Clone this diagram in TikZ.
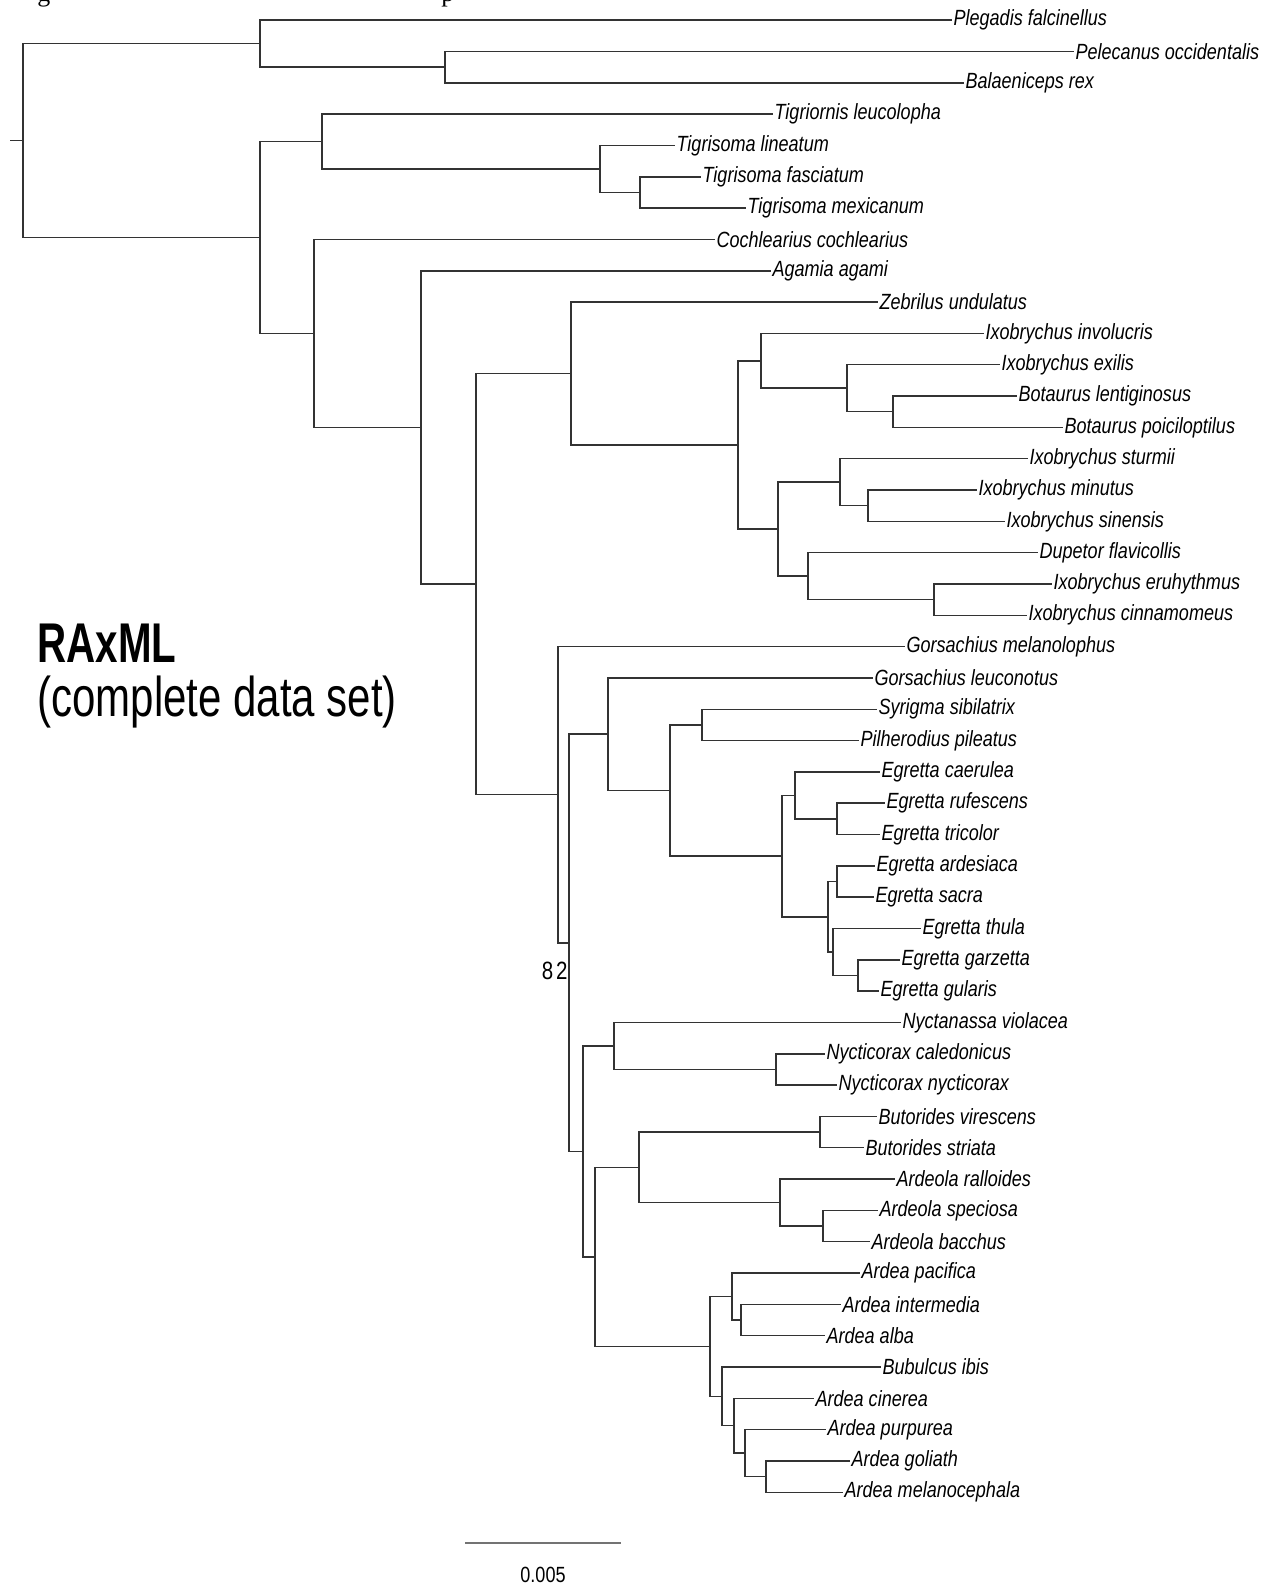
\documentclass[tikz,border=0pt]{standalone}
\usepackage{fontspec}
\setmainfont{Liberation Sans}
\newfontfamily\labfont{Liberation Sans}[FakeStretch=0.82]
\newfontfamily\ttlfont{Liberation Sans}[FakeStretch=0.72]
\newfontfamily\subfont{Liberation Sans}[FakeStretch=0.75]
\newfontfamily\capfont{Liberation Serif}
\begin{document}
\begin{tikzpicture}[x=0.5pt,y=-0.5pt,
  br/.style={draw=black!80,line width=0.75pt},
  leaf/.style={anchor=west,inner sep=0.6pt,font=\labfont\itshape\fontsize{11}{13}\selectfont},
  ttl/.style={anchor=base west,inner sep=0pt},
  small/.style={inner sep=0pt,font=\labfont\fontsize{11}{13}\selectfont}]
\useasboundingbox[fill=white] (0,0) rectangle (1270,1585);
% cut-off caption fragments at the top edge
\node[anchor=base west,inner sep=0pt,font=\capfont\fontsize{13}{15}\selectfont] (capg) at (37,1.5) {g};
\node[anchor=base west,inner sep=0pt,font=\capfont\fontsize{13}{15}\selectfont] (capp) at (441,1.5) {p};
% leaves
\foreach \i/\x/\t in {
 1/952/Plegadis falcinellus, 2/1074/Pelecanus occidentalis, 3/964/Balaeniceps rex,
 4/773/Tigriornis leucolopha, 5/675/Tigrisoma lineatum, 6/701/Tigrisoma fasciatum,
 7/746/Tigrisoma mexicanum, 8/715/Cochlearius cochlearius, 9/771/Agamia agami,
 10/878/Zebrilus undulatus, 11/984/Ixobrychus involucris, 12/1000/Ixobrychus exilis,
 13/1017/Botaurus lentiginosus, 14/1063/Botaurus poiciloptilus, 15/1028/Ixobrychus sturmii,
 16/977/Ixobrychus minutus, 17/1005/Ixobrychus sinensis, 18/1038/Dupetor flavicollis,
 19/1052/Ixobrychus eruhythmus, 20/1027/Ixobrychus cinnamomeus, 21/905/Gorsachius melanolophus,
 22/873/Gorsachius leuconotus, 23/877/Syrigma sibilatrix, 24/859/Pilherodius pileatus,
 25/880/Egretta caerulea, 26/885/Egretta rufescens, 27/880/Egretta tricolor,
 28/875/Egretta ardesiaca, 29/874/Egretta sacra, 30/921/Egretta thula,
 31/900/Egretta garzetta, 32/879/Egretta gularis, 33/901/Nyctanassa violacea,
 34/825/Nycticorax caledonicus, 35/837/Nycticorax nycticorax, 36/877/Butorides virescens,
 37/864/Butorides striata, 38/895/Ardeola ralloides, 39/878/Ardeola speciosa,
 40/870/Ardeola bacchus, 41/860/Ardea pacifica, 42/841/Ardea intermedia,
 43/825/Ardea alba, 44/881/Bubulcus ibis, 45/814/Ardea cinerea,
 46/826/Ardea purpurea, 47/850/Ardea goliath, 48/843/Ardea melanocephala}
 \node[leaf] (l\i) at (\x,{20.2+(\i-1)*31.32}) {\t};
% internal nodes
\coordinate (r0) at (10,140.6);
\coordinate (root) at (23,140.6);
\coordinate (n1) at (260,43.7);
\coordinate (n2) at (445,67.15);
\coordinate (n3) at (260,237.5);
\coordinate (nD) at (322,141.6);
\coordinate (nE) at (600,169.0);
\coordinate (nF) at (640,192.45);
\coordinate (n4) at (314,333.4);
\coordinate (n5) at (421,427.45);
\coordinate (n7) at (476,584.1);
\coordinate (n6) at (571,373.5);
\coordinate (n8) at (738,444.98);
\coordinate (n9) at (761,360.8);
\coordinate (n10) at (847,388.2);
\coordinate (n11) at (893,411.7);
\coordinate (n12) at (778,529.15);
\coordinate (n13) at (840,482.2);
\coordinate (n14) at (868,505.65);
\coordinate (n15) at (808,576.1);
\coordinate (n16) at (934,599.65);
\coordinate (n17) at (558,794.7);
\coordinate (n18) at (569,942.8);
\coordinate (n19) at (608,734.2);
\coordinate (n20) at (670,790.5);
\coordinate (n21) at (702,724.9);
\coordinate (n22) at (782,856.07);
\coordinate (n23) at (795,795.4);
\coordinate (n24) at (837,818.85);
\coordinate (n25) at (828,916.74);
\coordinate (n26) at (837,881.5);
\coordinate (n27) at (833,951.98);
\coordinate (n28) at (858,975.45);
\coordinate (n29) at (583,1151.4);
\coordinate (n30) at (614,1045.9);
\coordinate (n31) at (776,1069.45);
\coordinate (n32) at (595,1256.85);
\coordinate (n33) at (639,1167.3);
\coordinate (n34) at (820,1132.05);
\coordinate (n35) at (780,1202.5);
\coordinate (n36) at (823,1226.05);
\coordinate (n37) at (710,1346.4);
\coordinate (n38) at (732,1296.5);
\coordinate (n39) at (741,1319.95);
\coordinate (n40) at (722,1396.35);
\coordinate (n41) at (734,1425.7);
\coordinate (n42) at (745,1453.1);
\coordinate (n43) at (766,1476.55);
% branches
\draw[br] (r0) -- (root);
\foreach \p/\c in {root/n1,root/n3,n1/l1,n1/n2,n2/l2,n2/l3,
 n3/nD,n3/n4,nD/l4,nD/nE,nE/l5,nE/nF,nF/l6,nF/l7,
 n4/l8,n4/n5,n5/l9,n5/n7,n7/n6,n7/n17,n6/l10,n6/n8,
 n8/n9,n8/n12,n9/l11,n9/n10,n10/l12,n10/n11,n11/l13,n11/l14,
 n12/n13,n12/n15,n13/l15,n13/n14,n14/l16,n14/l17,n15/l18,n15/n16,n16/l19,n16/l20,
 n17/l21,n17/n18,n18/n19,n18/n29,n19/l22,n19/n20,n20/n21,n20/n22,n21/l23,n21/l24,
 n22/n23,n22/n25,n23/l25,n23/n24,n24/l26,n24/l27,n25/n26,n25/n27,n26/l28,n26/l29,
 n27/l30,n27/n28,n28/l31,n28/l32,
 n29/n30,n29/n32,n30/l33,n30/n31,n31/l34,n31/l35,
 n32/n33,n32/n37,n33/n34,n33/n35,n34/l36,n34/l37,n35/l38,n35/n36,n36/l39,n36/l40,
 n37/n38,n37/n40,n38/l41,n38/n39,n39/l42,n39/l43,
 n40/l44,n40/n41,n41/l45,n41/n42,n42/l46,n42/n43,n43/l47,n43/l48}
 \draw[br] (\p) |- (\c);
% bootstrap value
\node[small,anchor=base east,font=\labfont\fontsize{12.5}{14}\selectfont] (bs) at (568,979) {8\kern1.5pt 2};
% scale bar
\coordinate (sb1) at (465,1543);
\coordinate (sb2) at (621,1543);
\draw[draw=black!55,line width=1.1pt] (sb1) -- (sb2);
\node[small,anchor=base] (sbl) at (543,1582) {0.005};
% title
\node[ttl,font=\ttlfont\bfseries\fontsize{28}{32}\selectfont] (t1) at (37,662) {RAxML};
\node[ttl,font=\subfont\fontsize{28}{32}\selectfont] (t2) at (37,716) {(complete data set)};
\end{tikzpicture}
\end{document}
